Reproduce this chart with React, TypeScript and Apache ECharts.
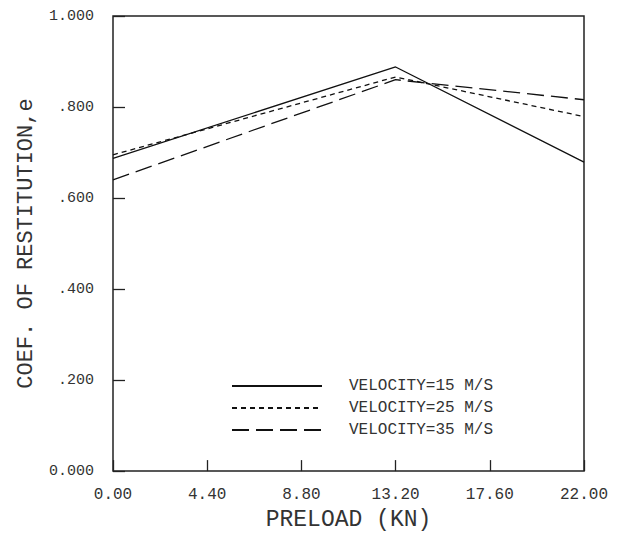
import React, { useEffect, useRef } from "react";
import * as echarts from "echarts";

const preload = [0, 13.2, 22];
const vel15 = [0.687, 0.888, 0.679];
const vel25 = [0.695, 0.866, 0.779];
const vel35 = [0.64, 0.86, 0.816];
const seriesNames = ["VELOCITY=15 M/S", "VELOCITY=25 M/S", "VELOCITY=35 M/S"];
const xTickLabels = ["0.00", "4.40", "8.80", "13.20", "17.60", "22.00"];
const yTickLabels = ["0.000", ".200", ".400", ".600", ".800", "1.000"];

const FONT = "'Liberation Mono', 'DejaVu Sans Mono', monospace";
const INK = "#222";
const TXT = "#333";

export default function App() {
  const ref = useRef<HTMLDivElement>(null);
  useEffect(() => {
    if (!ref.current) return;
    const chart = echarts.init(ref.current, undefined, { renderer: "svg" });
    const mk = (vals: number[]) => preload.map((x, i) => [x, vals[i]]);
    const lineBase = { type: "line", symbol: "none", showSymbol: false, silent: true, z: 3 } as any;
    chart.setOption({
      animation: false,
      backgroundColor: "#fff",
      grid: {
        left: 113,
        right: 46,
        top: 16,
        bottom: 55,
        show: true,
        borderColor: INK,
        borderWidth: 1.5,
        backgroundColor: "transparent",
      },
      legend: {
        orient: "vertical",
        left: 231,
        top: 378,
        padding: 0,
        itemWidth: 90,
        itemHeight: 14,
        itemGap: 6,
        selectedMode: false,
        itemStyle: { opacity: 0 },
        textStyle: {
          fontFamily: FONT,
          fontSize: 16,
          color: TXT,
          padding: [0, 0, 0, 22],
        },
        data: seriesNames,
      },
      xAxis: {
        type: "value",
        min: 0,
        max: 22,
        interval: 4.4,
        name: "PRELOAD (KN)",
        nameLocation: "middle",
        nameGap: 29,
        nameTextStyle: { fontFamily: FONT, fontSize: 23, color: TXT },
        axisLine: { show: false },
        axisTick: { show: true, inside: true, length: 11, lineStyle: { color: INK, width: 1.3 } },
        splitLine: { show: false },
        axisLabel: {
          fontFamily: FONT,
          fontSize: 16,
          color: TXT,
          margin: 16,
          formatter: (_v: number, i: number) => xTickLabels[i] ?? "",
        },
      },
      yAxis: {
        type: "value",
        min: 0,
        max: 1,
        interval: 0.2,
        name: "COEF. OF RESTITUTION,e",
        nameLocation: "middle",
        nameGap: 76,
        nameTextStyle: { fontFamily: FONT, fontSize: 22, color: TXT },
        axisLine: { show: false },
        axisTick: { show: true, inside: true, length: 12, lineStyle: { color: INK, width: 1.3 } },
        splitLine: { show: false },
        axisLabel: {
          fontFamily: FONT,
          fontSize: 15,
          color: TXT,
          margin: 19,
          formatter: (_v: number, i: number) => yTickLabels[i] ?? "",
        },
      },
      series: [
        { ...lineBase, name: seriesNames[0], data: mk(vel15), lineStyle: { color: "#111", width: 1.3, type: "solid" }, itemStyle: { color: "#111" } },
        { ...lineBase, name: seriesNames[1], data: mk(vel25), lineStyle: { color: "#111", width: 1.3, type: [5, 4] }, itemStyle: { color: "#111" } },
        { ...lineBase, name: seriesNames[2], data: mk(vel35), lineStyle: { color: "#111", width: 1.3, type: [17, 7] }, itemStyle: { color: "#111" } },
      ],
    });
    return () => chart.dispose();
  }, []);
  return <div ref={ref} style={{ width: 630, height: 536, position: "absolute", left: 0, top: 0 }} />;
}
